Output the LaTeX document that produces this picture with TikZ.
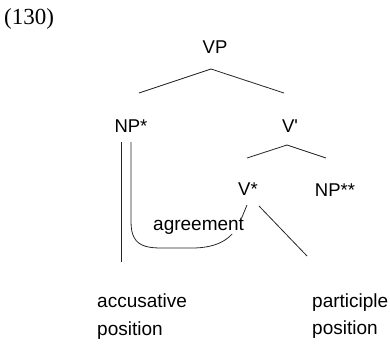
\documentclass[tikz,border=0pt]{standalone}
\usepackage{fontspec}
\setmainfont{Liberation Serif}
\newfontfamily\labfont{Liberation Sans}
\begin{document}
\begin{tikzpicture}[x=1pt,y=-1pt,
  lab/.style={font=\labfont\fontsize{18.5}{20}\selectfont, inner sep=0pt},
  low/.style={font=\labfont\fontsize{19}{20}\selectfont, inner sep=0pt, anchor=base west},
  branch/.style={line width=0.8pt, black!85},
]
\useasboundingbox (0,0) rectangle (390,343);
\node[font=\fontsize{23}{24}\selectfont, inner sep=0pt, anchor=base west] (num) at (4,24) {(130)};
\node[lab] (vp) at (215,47) {VP};
\node[lab] (np) at (131,126) {NP*};
\node[lab] (vbar) at (290,126) {V\textquotesingle};
\node[lab] (vs) at (248,189) {V*};
\node[lab] (npp) at (335,190) {NP**};
\node[low] (acc) at (97,307) {accusative};
\node[low] (accpos) at (97,335) {position};
\node[low] (part) at (312,307) {participle};
\node[low] (partpos) at (312,334) {position};
% branch points
\coordinate (vpa) at (211,69);
\coordinate (vpl) at (139,93);
\coordinate (vpr) at (284,93);
\coordinate (vba) at (287,145);
\coordinate (vbl) at (247,158);
\coordinate (vbr) at (326,158);
\draw[branch] (vpl) -- (vpa) -- (vpr);
\draw[branch] (vbl) -- (vba) -- (vbr);
% NP* double line
\coordinate (n1a) at (121,142);
\coordinate (n1b) at (121,262);
\coordinate (n2a) at (131,142);
\coordinate (vt) at (247,205);
\draw[branch] (n1a) -- (n1b);
\draw[branch] (n2a) -- (131,222) .. controls (131,250) and (150,248) .. (172,248)
  -- (192,248) .. controls (216,248) and (232,240) .. (240,222) -- (vt);
\node[low, fill=white] (agr) at (153,230) {agreement};
% V* to participle
\coordinate (vp1) at (259,206);
\coordinate (vp2) at (307,256);
\draw[branch] (vp1) -- (vp2);
\end{tikzpicture}
\end{document}
